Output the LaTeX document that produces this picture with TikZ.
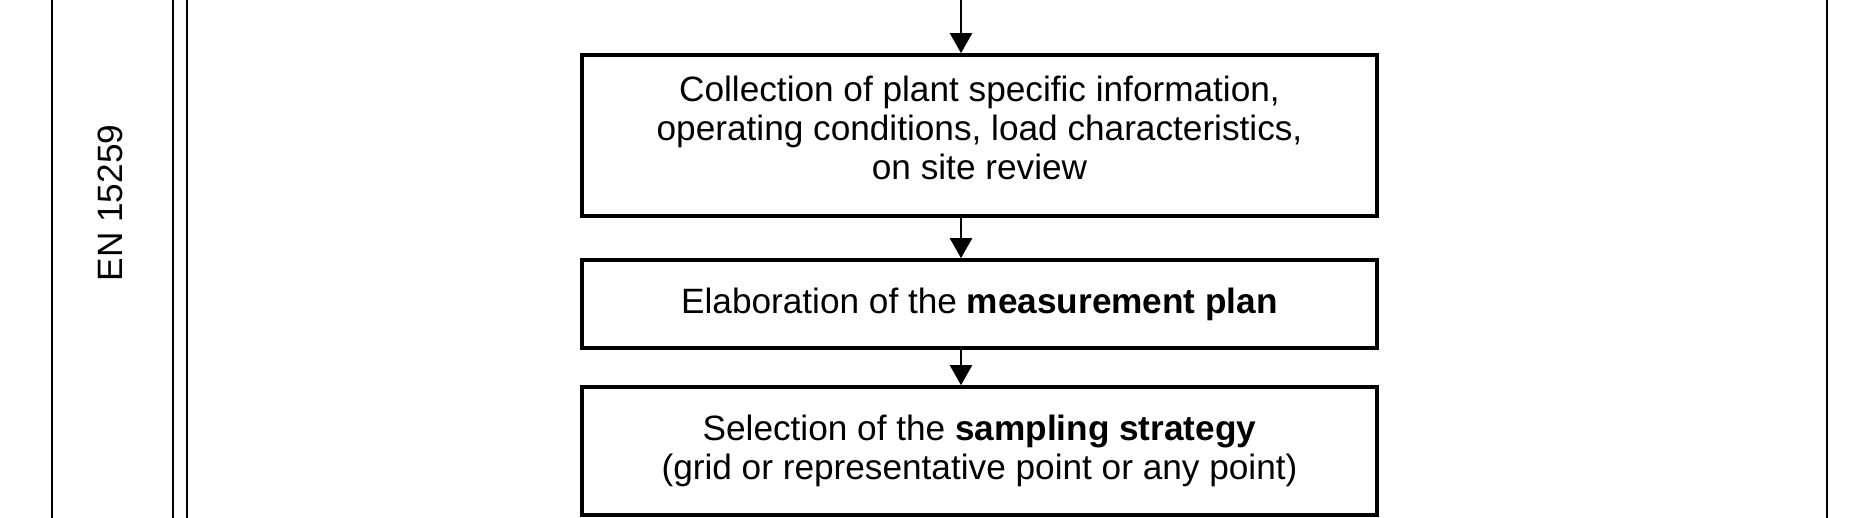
\documentclass[tikz,border=0pt]{standalone}
\usepackage{fontspec}
\setmainfont{Liberation Sans}
\usetikzlibrary{positioning,arrows.meta}

\begin{document}
\begin{tikzpicture}[x=0.5pt,y=-0.5pt,>={Triangle[width=11pt,length=10pt]},
	stepbox/.style={draw,rectangle,line width=1.8pt,minimum width=397.5pt,align=center,inner sep=0pt,font=\fontsize{17.6}{19.5}\selectfont}]

\useasboundingbox (0,0) rectangle (1850,518);

% frame of the table
\foreach \x in {52,173,187,1827} {
	\draw [line width=1.4pt] (\x,0) -- (\x,518);
}

\node [rotate=90,font=\fontsize{17.6}{19.5}\selectfont] (norm) at (110,203) {EN 15259};

%%%%%%%%%%%%%%%%%%%%%%%%%%%%%%%%%%%%%%%%%%%%%%%%%%%%%%%%%%%%%%%%

\node [stepbox,minimum height=80.5pt] (s1) at (979.5,135.5)
	{Collection of plant specific information,\\operating conditions, load characteristics,\\on site review\\[-11.5pt]};
\node [stepbox,minimum height=44pt] (s2) at (979.5,304)
	{Elaboration of the \textbf{measurement plan}};
\node [stepbox,minimum height=64pt] (s3) at (979.5,451)
	{Selection of the \textbf{sampling strategy}\\(grid or representative point or any point)};

%%%%%%%%%%%%%%%%%%%%%%%%%%%%%%%%%%%%%%%%%%%%%%%%%%%%%%%%%%%%%%%%

\coordinate (top) at (961,0);
\draw [->,line width=1.1pt] (top) -- (top |- s1.north);

\foreach \x in {1,2} {
	\pgfmathtruncatemacro{\j}{\x + 1};
	\draw [->,line width=1.1pt] (s\x.south -| top) -- (s\j.north -| top);
}

\end{tikzpicture}
\end{document}
